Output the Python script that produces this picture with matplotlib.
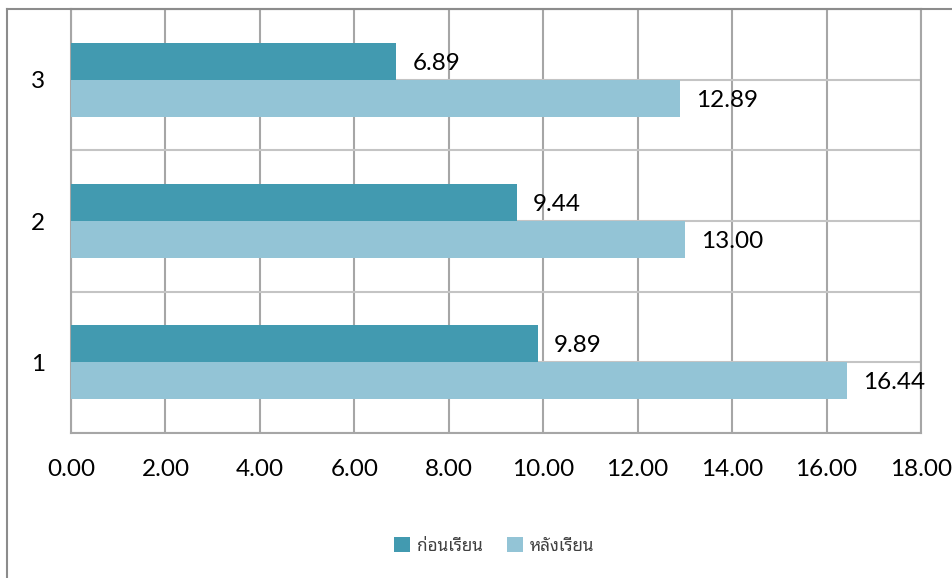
import matplotlib
matplotlib.use("Agg")
import matplotlib.pyplot as plt
from matplotlib.lines import Line2D
import numpy as np

# data
categories = ["1", "2", "3"]
before = [9.89, 9.44, 6.89]    # ก่อนเรียน
after = [16.44, 13.00, 12.89]  # หลังเรียน
series_names = ["ก่อนเรียน", "หลังเรียน"]
x_ticks = np.arange(0, 19, 2)

dark = "#429AB0"
light = "#93C4D6"
grid_col = "#A6A6A6"

W, H = 953, 578
fig = plt.figure(figsize=(W / 100, H / 100), dpi=100)
ax = fig.add_axes([71 / W, 1 - 433 / H, (921 - 71) / W, (433 - 9) / H])

y = np.arange(1, len(categories) + 1)
bh = 0.262
ax.barh(y + bh / 2, before, height=bh, color=dark, zorder=3, label=series_names[0])
ax.barh(y - bh / 2, after, height=bh, color=light, zorder=3, label=series_names[1])

# value labels just past the bar ends
for yy, v in zip(y + bh / 2, before):
    ax.annotate(f"{v:.2f}", (v, yy), xytext=(16, -2), textcoords="offset pixels",
                va="center", ha="left", fontsize=17.5, family="Lato", zorder=4)
for yy, v in zip(y - bh / 2, after):
    ax.annotate(f"{v:.2f}", (v, yy), xytext=(16, -2), textcoords="offset pixels",
                va="center", ha="left", fontsize=17.5, family="Lato", zorder=4)

ax.set_xlim(0, 18)
ax.set_ylim(0.5, 3.5)
ax.set_xticks(x_ticks)
ax.set_xticklabels([f"{t:.2f}" for t in x_ticks], family="Lato", fontsize=17.5)
ax.set_yticks(y)
ax.set_yticklabels(categories, family="Lato", fontsize=17.5)
ax.tick_params(axis="x", length=0, pad=19)
ax.tick_params(axis="y", length=0, pad=18.5)

# gridlines: vertical at every major tick, horizontal at every half category
for t in x_ticks:
    ax.axvline(t, color=grid_col, lw=1.5, zorder=1)
for h in np.arange(0.5, 3.6, 0.5):
    ax.axhline(h, color="#C4C4C4", lw=1.5, zorder=1)
for s in ax.spines.values():
    s.set_color(grid_col)
    s.set_linewidth(1.5)

# chart outer border (cropped on the right and bottom)
fig.add_artist(Line2D([7.5 / W, 7.5 / W], [0, 1 - 9 / H], color="#8C8C8C", lw=1.5,
                      transform=fig.transFigure))
fig.add_artist(Line2D([7.5 / W, 1], [1 - 9 / H, 1 - 9 / H], color="#8C8C8C", lw=1.5,
                      transform=fig.transFigure))

leg = fig.legend(loc="center", bbox_to_anchor=(494 / W, 1 - 546 / H), ncol=2,
                 frameon=False, handlelength=0.95, handleheight=0.95, handletextpad=0.4,
                 columnspacing=1.4, prop={"family": ["Noto Sans Thai Looped", "DejaVu Sans"], "size": 12.3})
for t in leg.get_texts():
    t.set_color("#404040")

fig.savefig("out.png", dpi=100)
